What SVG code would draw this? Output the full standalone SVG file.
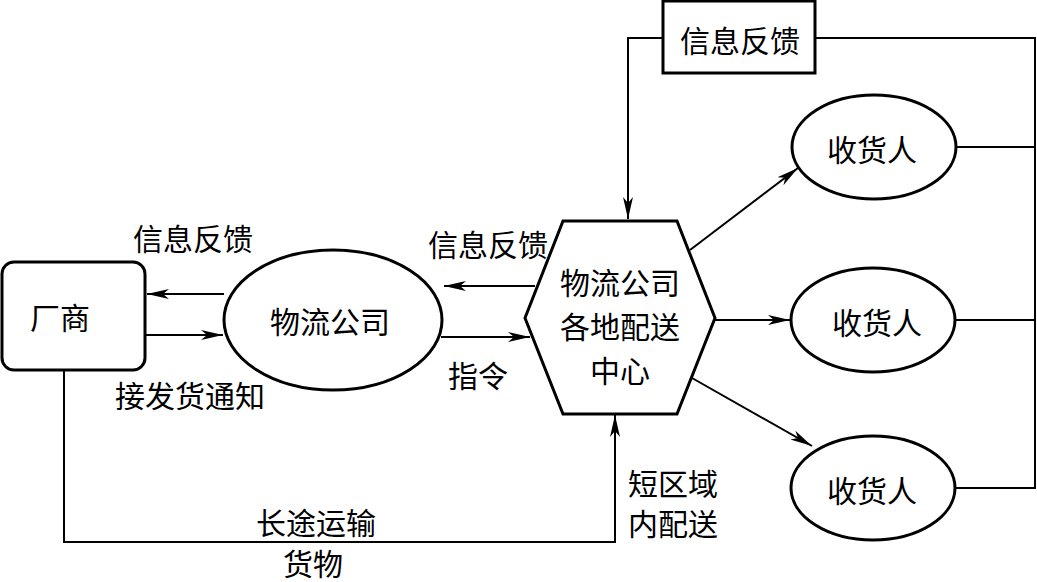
<svg xmlns="http://www.w3.org/2000/svg" width="1037" height="582" viewBox="0 0 1037 582">
<style>
.n{fill:#fff;stroke:#000;stroke-width:3}
.c{fill:none;stroke:#000;stroke-width:2}
.t{font-family:"Noto Sans CJK SC","Liberation Sans",sans-serif;font-size:30px;fill:#000;text-anchor:middle;dominant-baseline:central}
</style>
<defs>
<marker id="a" markerUnits="userSpaceOnUse" markerWidth="24" markerHeight="12" viewBox="0 0 24 12" refX="22" refY="6" orient="auto">
<path d="M0,1 L22,6 L0,11 L6,6 Z" fill="#000"/>
</marker>
</defs>
<rect width="1037" height="582" fill="#fff"/>
<g id="connectors">
<line class="c" x1="224" y1="294" x2="147" y2="294" marker-end="url(#a)"/>
<line class="c" x1="146" y1="335" x2="223" y2="335" marker-end="url(#a)"/>
<line class="c" x1="535" y1="286" x2="444" y2="286" marker-end="url(#a)"/>
<line class="c" x1="441" y1="337" x2="530" y2="337" marker-end="url(#a)"/>
<polyline class="c" points="663,38 628,38 628,219" marker-end="url(#a)"/>
<polyline class="c" points="815,38 1035,38 1035,488 956,488"/>
<line class="c" x1="957" y1="147" x2="1035" y2="147"/>
<line class="c" x1="956" y1="320" x2="1035" y2="320"/>
<line class="c" x1="690" y1="250" x2="798" y2="168" marker-end="url(#a)"/>
<line class="c" x1="714" y1="320" x2="790" y2="320" marker-end="url(#a)"/>
<line class="c" x1="692" y1="378" x2="812" y2="446" marker-end="url(#a)"/>
<polyline class="c" points="64,371 64,542 615,542 615,415" marker-end="url(#a)"/>
</g>
<g id="manufacturer">
<rect class="n" x="2" y="262" width="143" height="108" rx="12"/>
<text class="t" x="60" y="316">厂商</text>
</g>
<g id="logistics">
<ellipse class="n" cx="333" cy="320" rx="109" ry="70"/>
<text class="t" x="330" y="320">物流公司</text>
</g>
<g id="center">
<polygon class="n" points="563,221 677,221 715,318 677,414 563,414 525,318"/>
<text class="t" x="620" y="281">物流公司</text>
<text class="t" x="620" y="325">各地配送</text>
<text class="t" x="620" y="369">中心</text>
</g>
<g id="feedback">
<rect class="n" x="663" y="1" width="152" height="72"/>
<text class="t" x="740" y="39">信息反馈</text>
</g>
<g id="r1">
<ellipse class="n" cx="874" cy="147" rx="82" ry="52"/>
<text class="t" x="872" y="148">收货人</text>
</g>
<g id="r2">
<ellipse class="n" cx="873" cy="320" rx="82" ry="52"/>
<text class="t" x="877" y="321">收货人</text>
</g>
<g id="r3">
<ellipse class="n" cx="873" cy="488" rx="82" ry="52"/>
<text class="t" x="872" y="489">收货人</text>
</g>
<g id="labels">
<text class="t" x="193" y="237">信息反馈</text>
<text class="t" x="190" y="394">接发货通知</text>
<text class="t" x="488" y="243">信息反馈</text>
<text class="t" x="478" y="374">指令</text>
<text class="t" x="673" y="482">短区域</text>
<text class="t" x="673" y="522">内配送</text>
<text class="t" x="316" y="521">长途运输</text>
<text class="t" x="313" y="562">货物</text>
</g>
</svg>
